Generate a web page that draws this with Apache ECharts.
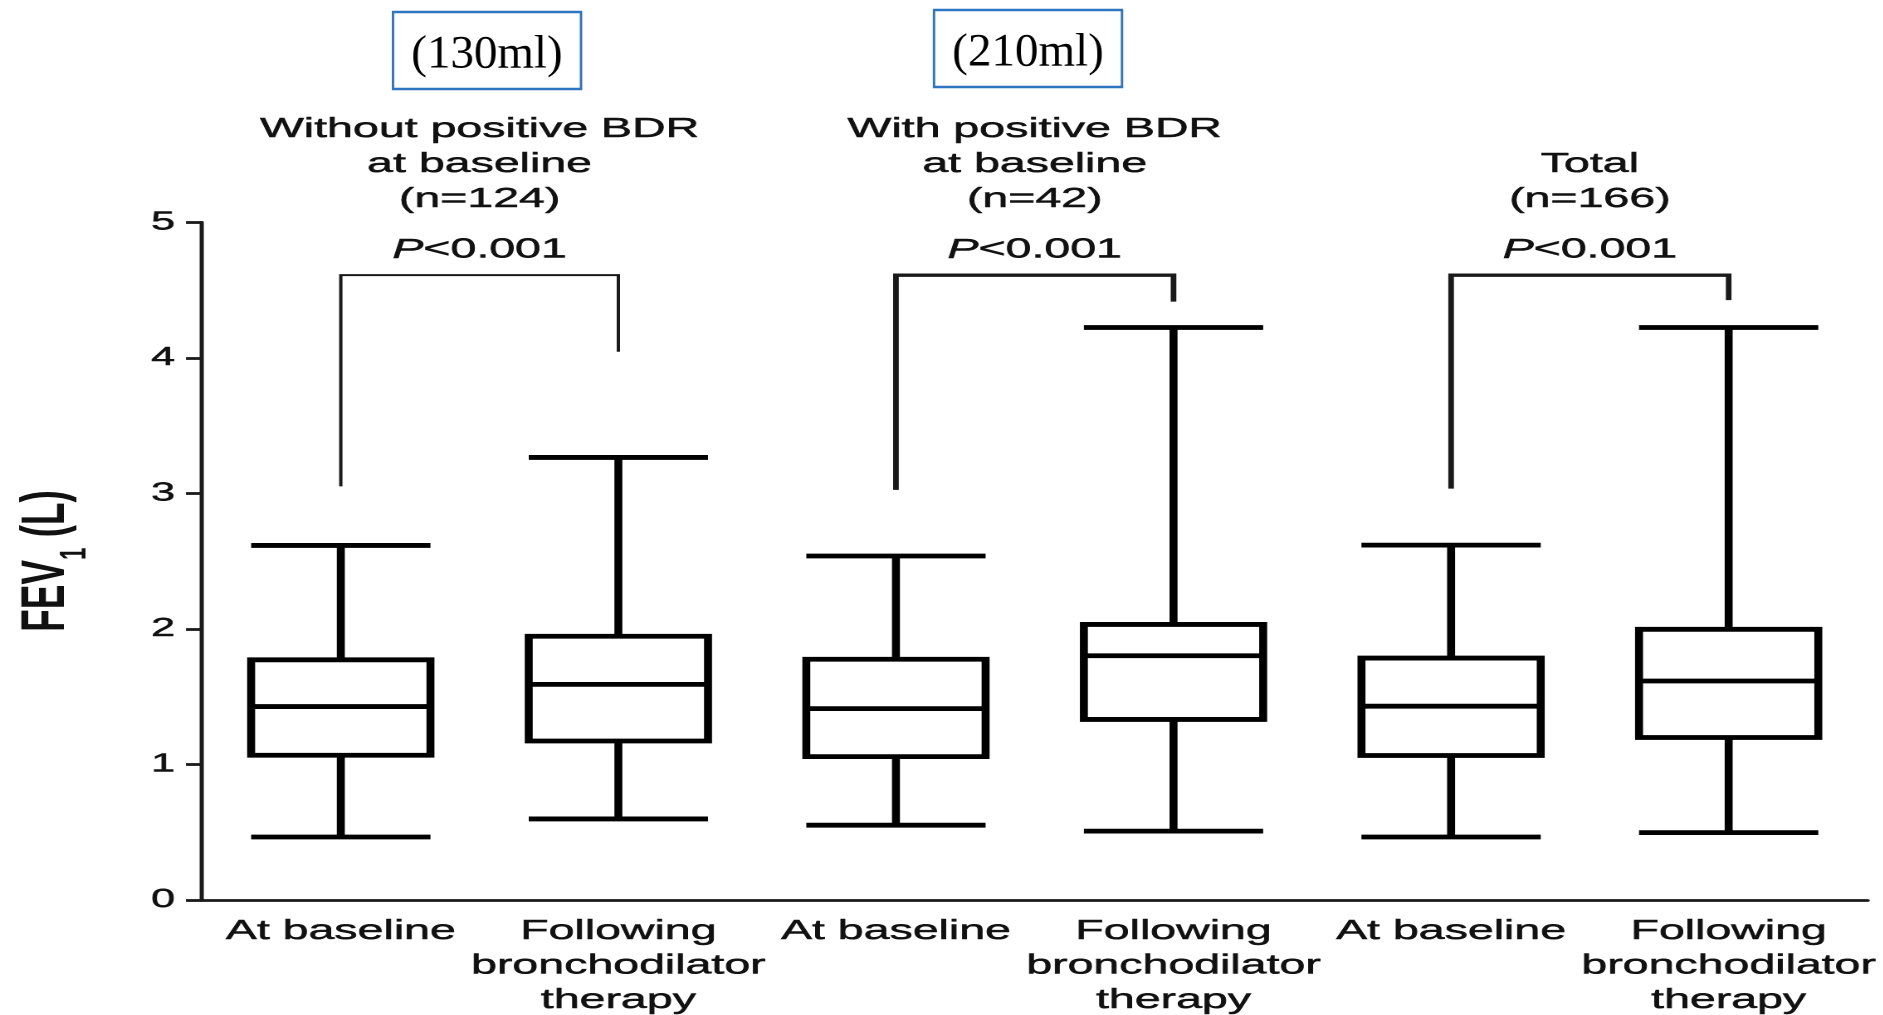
<!DOCTYPE html>
<html>
<head>
<meta charset="utf-8">
<title>FEV1 before and after bronchodilator therapy</title>
<script src="https://cdn.jsdelivr.net/npm/echarts@6/dist/echarts.min.js"></script>
<style>
  html, body { margin: 0; padding: 0; background: #fff; overflow: hidden; }
  #wrap { position: relative; width: 1883px; height: 1015px; overflow: hidden; background: #fff; }
  #chart { position: absolute; left: 0; top: 0; height: 1015px; transform-origin: 0 0; }
</style>
</head>
<body>
<div id="wrap"><div id="chart"></div></div>
<script>
// The figure is drawn narrow and widened horizontally as a whole.
const STRETCH = 1.66;
const PAGE_W = 1883;

// ---- data ----
const categories = [
  'At baseline', 'Following\nbronchodilator\ntherapy',
  'At baseline', 'Following\nbronchodilator\ntherapy',
  'At baseline', 'Following\nbronchodilator\ntherapy'
];
const boxMin    = [0.465, 0.598, 0.552, 0.508, 0.465, 0.497];
const boxQ1     = [1.068, 1.173, 1.058, 1.332, 1.066, 1.199];
const boxMedian = [1.427, 1.591, 1.412, 1.802, 1.430, 1.616];
const boxQ3     = [1.772, 1.946, 1.776, 2.033, 1.785, 1.997];
const boxMax    = [2.616, 3.265, 2.538, 4.224, 2.618, 4.224];

const yMin = 0, yMax = 5, yStep = 1;

const groupTitles = [
  'Without positive BDR\nat baseline\n(n=124)',
  'With positive BDR\nat baseline\n(n=42)',
  'Total\n(n=166)'
];
const groupPairs = [[0, 1], [2, 3], [4, 5]];
const pTexts = ['<0.001', '<0.001', '<0.001'];
const bracketTop = [4.61, 4.61, 4.61];
const bracketLeftEnd = [3.052, 3.026, 3.035];
const bracketRightEnd = [4.045, 4.415, 4.426];
const changeLabels = ['(130ml)', '(210ml)'];

// ---- setup ----
const FONT = '"Liberation Sans", Arial, Helvetica, sans-serif';
const INK = '#111';
const HALO = 0.5;                      // slight thickening of glyph strokes
const sx = v => v / STRETCH;           // page pixels -> chart pixels (horizontal)

const dom = document.getElementById('chart');
dom.style.width = (PAGE_W / STRETCH) + 'px';
dom.style.transform = 'scaleX(' + STRETCH + ')';
const chart = echarts.init(dom, null, { renderer: 'canvas', devicePixelRatio: 2 });

const boxData = categories.map((_, i) => [boxMin[i], boxQ1[i], boxMedian[i], boxQ3[i], boxMax[i]]);

const bracketSeries = groupPairs.map(([a, b], g) => ({
  type: 'line',
  name: 'bracket' + g,
  data: [[a, bracketLeftEnd[g]], [a, bracketTop[g]], [b, bracketTop[g]], [b, bracketRightEnd[g]]],
  symbol: 'none',
  silent: true,
  lineStyle: { color: '#1a1a1a', width: g === 0 ? 2 : 3.4, cap: 'butt', join: 'miter' },
  z: 3
}));

chart.setOption({
  animation: false,
  backgroundColor: '#fff',
  textStyle: { fontFamily: FONT, color: INK },
  grid: {
    left: sx(202), right: sx(15), top: 222.3, bottom: 115,
    containLabel: false, outerBoundsMode: 'none'
  },
  xAxis: {
    type: 'category',
    data: categories,
    boundaryGap: true,
    axisLine: { lineStyle: { color: '#1a1a1a', width: 2.8 } },
    axisTick: { alignWithLabel: true, length: 9, lineStyle: { color: '#1a1a1a', width: 2.4 } },
    axisLabel: {
      interval: 0, margin: 14, color: INK, fontSize: 28, lineHeight: 34.5, fontFamily: FONT,
      textBorderColor: INK, textBorderWidth: HALO
    },
    splitLine: { show: false }
  },
  yAxis: {
    type: 'value',
    min: yMin, max: yMax, interval: yStep,
    axisLine: { show: true, lineStyle: { color: '#1a1a1a', width: 2.5 } },
    axisTick: { show: true, length: sx(16), lineStyle: { color: '#1a1a1a', width: 2.8 } },
    axisLabel: {
      margin: sx(27), color: INK, fontSize: 26, fontFamily: FONT,
      textBorderColor: INK, textBorderWidth: HALO
    },
    splitLine: { show: false }
  },
  series: [{
    type: 'boxplot',
    name: 'FEV1',
    data: boxData,
    boxWidth: [108, 108],
    itemStyle: { color: '#fff', borderColor: '#000', borderWidth: 4.8 },
    emphasis: { disabled: true },
    z: 2
  }].concat(bracketSeries)
});

// ---- annotations placed from axis coordinates ----
const xAt = i => chart.convertToPixel({ gridIndex: 0 }, [i, 0])[0];

const graphics = [];

groupPairs.forEach(([a, b], g) => {
  const cx = (xAt(a) + xAt(b)) / 2;
  const lines = groupTitles[g].split('\n').length;
  graphics.push({
    type: 'text',
    x: cx,
    y: lines === 3 ? 164.5 : 182,
    style: {
      text: groupTitles[g],
      fontSize: 28, fontFamily: FONT, fill: INK, lineHeight: 35,
      stroke: INK, lineWidth: HALO,
      align: 'center', verticalAlign: 'middle',
      textAlign: 'center', textVerticalAlign: 'middle'
    }
  });
  graphics.push({
    type: 'text',
    x: cx,
    y: 250,
    style: {
      text: '{i|P}' + pTexts[g],
      fontSize: 28, fontFamily: FONT, fill: INK,
      stroke: INK, lineWidth: HALO,
      rich: { i: { fontSize: 28, fontFamily: FONT, fontStyle: 'italic', fill: INK, stroke: INK, lineWidth: HALO } },
      align: 'center', verticalAlign: 'middle',
      textAlign: 'center', textVerticalAlign: 'middle'
    }
  });
});

// y-axis title, reads bottom to top
graphics.push({
  type: 'text',
  x: 28.5,
  y: 561,
  rotation: Math.PI / 2,
  style: {
    text: '{b|FEV}{s|1}{b| (L)}',
    fill: INK,
    rich: {
      b: { fontSize: 37, fontWeight: 'bold', fontFamily: FONT, fill: INK, lineHeight: 56, verticalAlign: 'middle' },
      s: { fontSize: 22, fontWeight: 'bold', fontFamily: FONT, fill: INK, lineHeight: 56, verticalAlign: 'bottom' }
    },
    align: 'center', verticalAlign: 'middle',
    textAlign: 'center', textVerticalAlign: 'middle'
  }
});

// boxed change values above the first two groups (not widened)
const calloutLeft = [393, 934];
const calloutTop = [12, 10];
changeLabels.forEach((label, k) => {
  graphics.push({
    type: 'group',
    x: sx(calloutLeft[k]),
    y: calloutTop[k],
    scaleX: 1 / STRETCH,
    children: [
      {
        type: 'rect',
        shape: { x: 0, y: 0, width: 188, height: 77 },
        style: { fill: '#fff', stroke: '#2e74c0', lineWidth: 2.4 }
      },
      {
        type: 'text',
        x: 94, y: 43,
        style: {
          text: label,
          fontSize: 47, fontFamily: '"Liberation Serif", "Times New Roman", serif', fill: '#000',
          align: 'center', verticalAlign: 'middle',
          textAlign: 'center', textVerticalAlign: 'middle'
        }
      }
    ]
  });
});

chart.setOption({ graphic: graphics });
</script>
</body>
</html>
